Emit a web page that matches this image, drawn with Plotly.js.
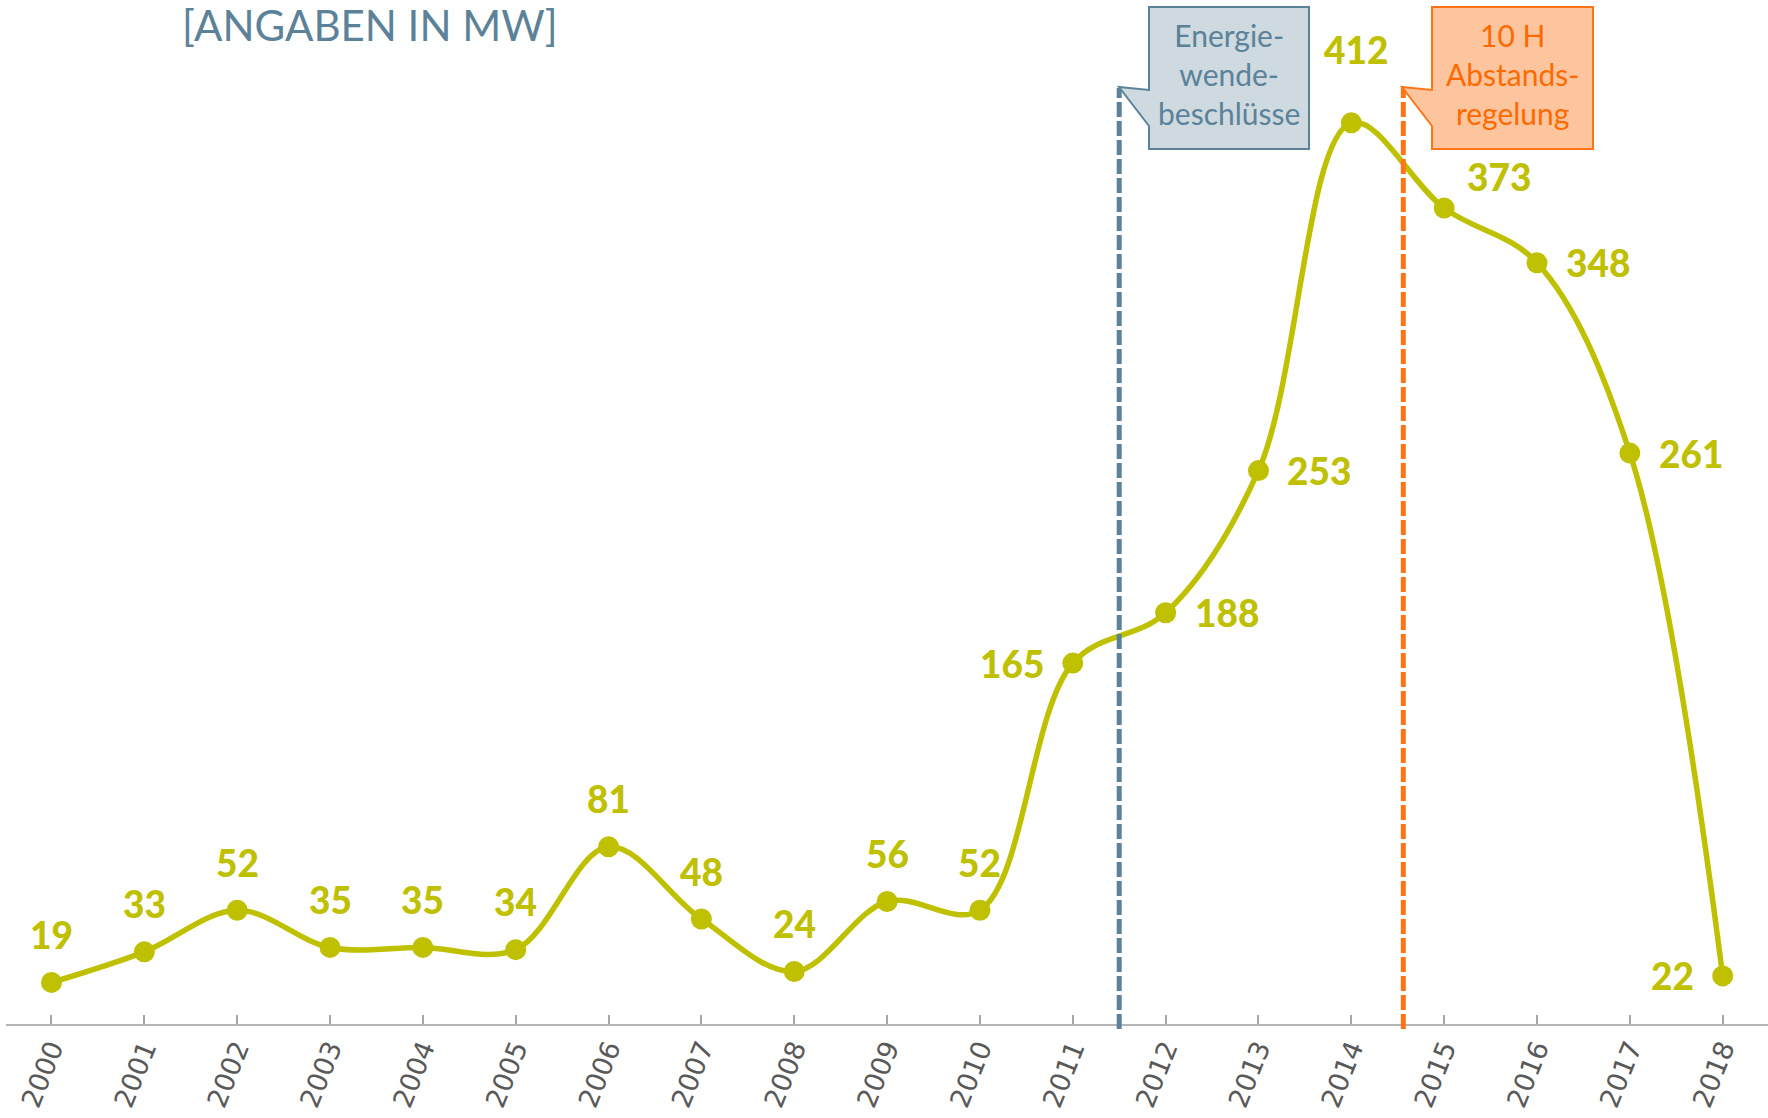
<!DOCTYPE html>
<html>
<head>
<meta charset="utf-8">
<script src="https://cdn.plot.ly/plotly-3.0.1.min.js"></script>
<style>html,body{margin:0;padding:0;background:#fff;}#chart{width:1768px;height:1118px;}</style>
</head>
<body>
<div id="chart"></div>
<script>
// ---- data ----
const years = [2000,2001,2002,2003,2004,2005,2006,2007,2008,2009,2010,2011,2012,2013,2014,2015,2016,2017,2018];
const values = [19,33,52,35,35,34,81,48,24,56,52,165,188,253,412,373,348,261,22];
const tickLabels = years.map(String);
const unitTitle = "[ANGABEN IN MW]";
const eventYears = [2011.5, 2014.56];
const eventTexts = ["Energie-<br>wende-<br>beschlüsse", "10 H<br>Abstands-<br>regelung"];

// ---- styles ----
const W = 1768, H = 1118;
const M = {l: 6, r: 0, t: 20, b: 94};
const green = "#BEC000";
const blueGrey = "#5B8299";
const orange = "#FF7417";
const px = x => (x - M.l) / (W - M.l - M.r);
const py = y => (H - M.b - y) / (H - M.t - M.b);

// label placement per point (style only)
const labelPlace = ["t","t","t","t","t","t","t","t","t","t","t","l","r","r","peak","tr","r","r","l"];

const annotations = [];
years.forEach((yr, i) => {
  const p = labelPlace[i];
  const a = {x: yr, y: values[i], xref: "x", yref: "y", text: String(values[i]), showarrow: false,
    font: {family: "Lato, 'Open Sans', sans-serif", size: 37, color: green, weight: 900}};
  if (p === "t") { a.xanchor = "center"; a.yanchor = "middle"; a.yshift = 48; }
  else if (p === "peak") { a.xanchor = "center"; a.yanchor = "middle"; a.yshift = 73; a.xshift = 5; }
  else if (p === "l") { a.xanchor = "right"; a.yanchor = "middle"; a.xshift = -27; a.yshift = 0; }
  else if (p === "r") { a.xanchor = "left"; a.yanchor = "middle"; a.xshift = 27; a.yshift = 0; }
  else if (p === "tr") { a.xanchor = "left"; a.yanchor = "middle"; a.xshift = 21; a.yshift = 32; }
  annotations.push(a);
});

annotations.push({xref: "paper", yref: "paper", x: px(180), y: py(25), xanchor: "left", yanchor: "middle",
  text: unitTitle, showarrow: false, font: {family: "Lato, sans-serif", size: 42, color: blueGrey}});

// callout boxes
function calloutPath(x0, x1, y0, y1, tipX, tipY, b0, b1) {
  return `M ${px(x0)} ${py(y0)} L ${px(x1)} ${py(y0)} L ${px(x1)} ${py(y1)} L ${px(x0)} ${py(y1)} ` +
         `L ${px(x0)} ${py(b1)} L ${px(tipX)} ${py(tipY)} L ${px(x0)} ${py(b0)} Z`;
}
const boxes = [
  {x0: 1149, x1: 1309, fill: "#CED9E0", line: blueGrey, txt: "#5B8299"},
  {x0: 1432, x1: 1593, fill: "#FCC59D", line: orange, txt: "#FF6A00"}
];
const shapes = [];
eventYears.forEach((ey, i) => {
  shapes.push({type: "line", xref: "x", yref: "paper", x0: ey, x1: ey, y0: py(1029), y1: py(88),
    line: {color: i === 0 ? blueGrey : orange, width: 5, dash: "15px,4px"}});
  const b = boxes[i];
  shapes.push({type: "path", xref: "paper", yref: "paper",
    path: calloutPath(b.x0, b.x1, 7, 149, b.x0 - 30, 87, 90, 126),
    fillcolor: b.fill, line: {color: b.line, width: 2}, layer: "above"});
  annotations.push({xref: "paper", yref: "paper", x: px((b.x0 + b.x1) / 2), y: py(74), xanchor: "center", yanchor: "middle",
    text: eventTexts[i], showarrow: false, align: "center",
    font: {family: "Lato, sans-serif", size: 30, color: b.txt}});
});

const trace = {
  x: years, y: values, type: "scatter", mode: "lines+markers",
  line: {shape: "spline", smoothing: 1, color: green, width: 5.5},
  marker: {size: 21, color: green},
  hoverinfo: "skip", cliponaxis: false
};

const layout = {
  width: W, height: H, margin: M,
  paper_bgcolor: "#fff", plot_bgcolor: "#fff",
  showlegend: false,
  xaxis: {range: [1999.51, 2018.488], tickmode: "array", tickvals: years, ticktext: tickLabels,
    tickangle: -68, ticks: "inside", ticklen: 9, tickwidth: 2, tickcolor: "#A6A6A6",
    ticklabelstandoff: -4,
    showline: true, linecolor: "#B5B5B5", linewidth: 2, showgrid: false, zeroline: false,
    tickfont: {family: "'DejaVu Sans', sans-serif", size: 27, color: "#595959"}, fixedrange: true},
  yaxis: {range: [0, 459], visible: false, showgrid: false, zeroline: false, fixedrange: true},
  shapes: shapes,
  annotations: annotations
};

Plotly.newPlot("chart", [trace], layout, {staticPlot: true, displayModeBar: false});
</script>
</body>
</html>
